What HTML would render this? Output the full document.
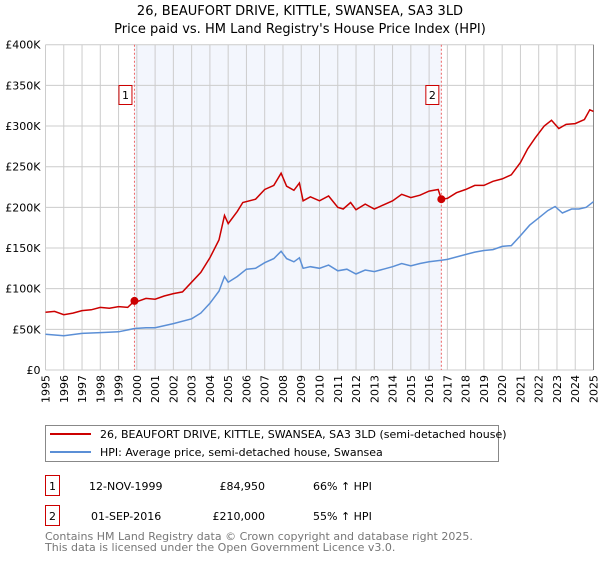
<!DOCTYPE html>
<html><head><meta charset="utf-8"><style>
body{margin:0;background:#fff;font-family:"Liberation Sans","DejaVu Sans",sans-serif;}
svg text{font-family:"DejaVu Sans","Liberation Sans",sans-serif;}
</style></head><body>
<svg id="c" width="600" height="560" xmlns="http://www.w3.org/2000/svg">
<text x="300" y="15" text-anchor="middle" font-size="13">26, BEAUFORT DRIVE, KITTLE, SWANSEA, SA3 3LD</text>
<text x="300" y="33" text-anchor="middle" font-size="13">Price paid vs. HM Land Registry's House Price Index (HPI)</text>
<g id="plot"></g>
<g>
<rect x="45.5" y="425.5" width="453" height="36" fill="#fff" stroke="#888"/>
<line x1="50" y1="434" x2="91" y2="434" stroke="#cc0000" stroke-width="2"/>
<text x="100" y="438" font-size="11">26, BEAUFORT DRIVE, KITTLE, SWANSEA, SA3 3LD (semi-detached house)</text>
<line x1="50" y1="452" x2="91" y2="452" stroke="#5b8fd6" stroke-width="2"/>
<text x="100" y="456" font-size="11">HPI: Average price, semi-detached house, Swansea</text>
</g>
<g font-size="11">
<rect x="45.5" y="475.5" width="14" height="20" fill="#fff" stroke="#cc0000"/><text x="52.5" y="490" text-anchor="middle">1</text>
<text x="89" y="490">12-NOV-1999</text><text x="265" y="490" text-anchor="end">£84,950</text><text x="313" y="490">66% ↑ HPI</text>
<rect x="45.5" y="505.5" width="14" height="20" fill="#fff" stroke="#cc0000"/><text x="52.5" y="520" text-anchor="middle">2</text>
<text x="91" y="520">01-SEP-2016</text><text x="265" y="520" text-anchor="end">£210,000</text><text x="313" y="520">55% ↑ HPI</text>
</g>
<text x="45" y="540" font-size="11" fill="#777">Contains HM Land Registry data © Crown copyright and database right 2025.</text>
<text x="45" y="551" font-size="11" fill="#777">This data is licensed under the Open Government Licence v3.0.</text>
</svg>
<script>
const yTicks=[0,50,100,150,200,250,300,350,400];
const years=[1995,1996,1997,1998,1999,2000,2001,2002,2003,2004,2005,2006,2007,2008,2009,2010,2011,2012,2013,2014,2015,2016,2017,2018,2019,2020,2021,2022,2023,2024,2025];
const sales=[{n:"1",t:1999.87,v:84.95},{n:"2",t:2016.67,v:210}];
const propT=[1995,1995.5,1996,1996.5,1997,1997.5,1998,1998.5,1999,1999.5,1999.87,2000,2000.5,2001,2001.5,2002,2002.5,2003,2003.5,2004,2004.5,2004.8,2005,2005.5,2005.8,2006.5,2007,2007.5,2007.9,2008.2,2008.6,2008.9,2009.1,2009.5,2010,2010.5,2011,2011.3,2011.7,2012,2012.5,2013,2013.5,2014,2014.5,2015,2015.5,2016,2016.5,2016.67,2017,2017.5,2018,2018.5,2019,2019.5,2020,2020.5,2021,2021.4,2021.8,2022.3,2022.7,2023.1,2023.5,2024,2024.5,2024.8,2025];
const propV=[71,72,68,70,73,74,77,76,78,77,85,84,88,87,91,94,96,108,120,138,160,190,180,195,206,210,222,227,242,226,221,230,208,213,208,214,200,198,206,197,204,198,203,208,216,212,215,220,222,210,211,218,222,227,227,232,235,240,255,272,285,300,307,297,302,303,308,320,318];
const hpiT=[1995,1996,1997,1998,1999,1999.87,2000.5,2001,2002,2003,2003.5,2004,2004.5,2004.8,2005,2005.5,2006,2006.5,2007,2007.5,2007.9,2008.2,2008.6,2008.9,2009.1,2009.5,2010,2010.5,2011,2011.5,2012,2012.5,2013,2013.5,2014,2014.5,2015,2015.5,2016,2016.67,2017,2018,2018.5,2019,2019.5,2020,2020.5,2021,2021.5,2022,2022.5,2022.9,2023.3,2023.8,2024.2,2024.6,2025];
const hpiV=[44,42,45,46,47,51,52,52,57,63,70,82,97,115,108,115,124,125,132,137,146,137,133,138,125,127,125,129,122,124,118,123,121,124,127,131,128,131,133,135,136,142,145,147,148,152,153,165,178,187,196,201,193,198,198,200,207];
const X0=45.5,X1=593.5,Y0=370,Y1=44.7;
const x=t=>X0+(t-1995)/30*(X1-X0);
const y=v=>Y0-v/400*(Y0-Y1);
const NS="http://www.w3.org/2000/svg";
const g=document.getElementById('plot');
function mk(tag,a){const e=document.createElementNS(NS,tag);for(const k in a)e.setAttribute(k,a[k]);g.appendChild(e);return e;}
let e=mk('rect',{x:x(sales[0].t),y:Y1,width:x(sales[1].t)-x(sales[0].t),height:Y0-Y1,fill:'#f3f6fd'});


for(const yr of years){
 e=mk('line',{x1:x(yr),x2:x(yr),y1:Y1,y2:Y0,stroke:'#ccc'});
 
 
 e=mk('text',{x:0,y:0,'font-size':11,'text-anchor':'end',transform:`translate(${x(yr)+4},${Y0+5}) rotate(-90)`});
 e.textContent=yr;
 
 
}
for(const v of yTicks){
 e=mk('line',{x1:X0,x2:X1,y1:y(v),y2:y(v),stroke:'#ccc'});
 
 
 e=mk('text',{x:X0-5,y:y(v)+4,'font-size':11,'text-anchor':'end'});
 e.textContent=v===0?'£0':'£'+v+'K';
 
 
}
e=mk('line',{x1:X1,x2:X1,y1:Y1,y2:Y0,stroke:'#888'});


for(const s of sales){
 e=mk('line',{x1:x(s.t),x2:x(s.t),y1:Y1,y2:Y0,stroke:'#e66','stroke-dasharray':'2,2'});
 
 
}
function path(T,V,col,name){
 let d=T.map((t,i)=>(i?'L':'M')+x(t).toFixed(1)+','+y(V[i]).toFixed(1)).join('');
 e=mk('path',{d:d,fill:'none',stroke:col,'stroke-width':1.5});
 
 
}
path(hpiT,hpiV,'#5b8fd6','hpi-line');
path(propT,propV,'#cc0000','property-line');
for(const s of sales){
 e=mk('circle',{cx:x(s.t),cy:y(s.v),r:4,fill:'#cc0000'});
 
 
 e=mk('rect',{x:x(s.t)-15.5,y:85.5,width:13,height:19,fill:'#fff',stroke:'#cc0000'});
 
 
 e=mk('text',{x:x(s.t)-9,y:99,'font-size':11,'text-anchor':'middle'});
 e.textContent=s.n;
 
 
}
</script>
</body></html>
